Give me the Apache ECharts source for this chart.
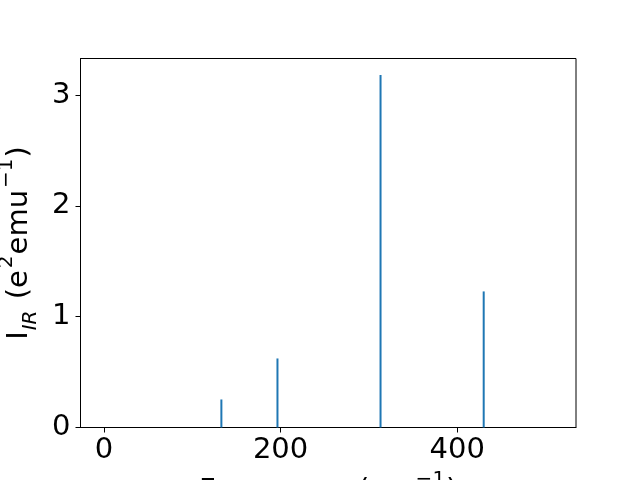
<!DOCTYPE html>
<html>
<head>
<meta charset="utf-8">
<script src="https://cdn.jsdelivr.net/npm/echarts@6/dist/echarts.min.js"></script>
<style>html,body{margin:0;padding:0;background:#fff;}#c{width:640px;height:480px;}</style>
</head>
<body>
<div id="c"></div>
<script>
var frequencies = [133, 196.5, 313.2, 430];
var intensities = [0.253, 0.623, 3.18, 1.228];
var xTicks = [0, 200, 400];
var yTicks = [0, 1, 2, 3];

var stemData = frequencies.map(function (f, i) { return [f, intensities[i]]; });
var font = 'DejaVu Sans';
var richStyles = {
  m: {fontFamily: font, fontSize: 29, color: '#000', lineHeight: 44},
  s: {fontFamily: font, fontSize: 20, color: '#000', verticalAlign: 'top', lineHeight: 20, padding: [0, 1, 0, 2]},
  sub: {fontFamily: font, fontSize: 20, fontStyle: 'italic', color: '#000', verticalAlign: 'bottom', lineHeight: 20, padding: [0, 2, 0, 1]}
};
var chart = echarts.init(document.getElementById('c'), null, {renderer: 'canvas'});
chart.setOption({
  animation: false,
  backgroundColor: '#ffffff',
  grid: {left: 80.5, right: 64, top: 58.5, bottom: 52.5, containLabel: false, outerBoundsMode: 'none',
    show: true, borderColor: '#000', borderWidth: 1, backgroundColor: 'transparent'},
  xAxis: {
    type: 'value', min: -26.5, max: 534.5,
    name: '{m|Frequency (cm}{s|−1}{m|)}',
    nameLocation: 'middle', nameGap: 40,
    nameTextStyle: {fontFamily: font, color: '#000', rich: richStyles},
    axisLine: {show: true, onZero: false, lineStyle: {color: '#000', width: 1}},
    axisTick: {show: true, length: 5, lineStyle: {color: '#000', width: 1}, customValues: xTicks},
    axisLabel: {show: true, fontFamily: font, fontSize: 29, color: '#000', margin: 8, customValues: xTicks},
    splitLine: {show: false}
  },
  yAxis: {
    type: 'value', min: 0, max: 3.33,
    name: '{m|I}{sub|IR}{m| (e}{s|2}{m|emu}{s|−1}{m|)}',
    nameLocation: 'middle', nameGap: 37, nameRotate: 90,
    nameTextStyle: {fontFamily: font, color: '#000', rich: richStyles},
    axisLine: {show: true, onZero: false, lineStyle: {color: '#000', width: 1}},
    axisTick: {show: true, length: 5, lineStyle: {color: '#000', width: 1}, customValues: yTicks},
    axisLabel: {show: true, fontFamily: font, fontSize: 29, color: '#000', margin: 10, customValues: yTicks},
    splitLine: {show: false}
  },
  series: [{
    type: 'bar',
    data: stemData,
    barWidth: 2,
    itemStyle: {color: '#1f77b4'},
    silent: true
  }]
});
</script>
</body>
</html>
